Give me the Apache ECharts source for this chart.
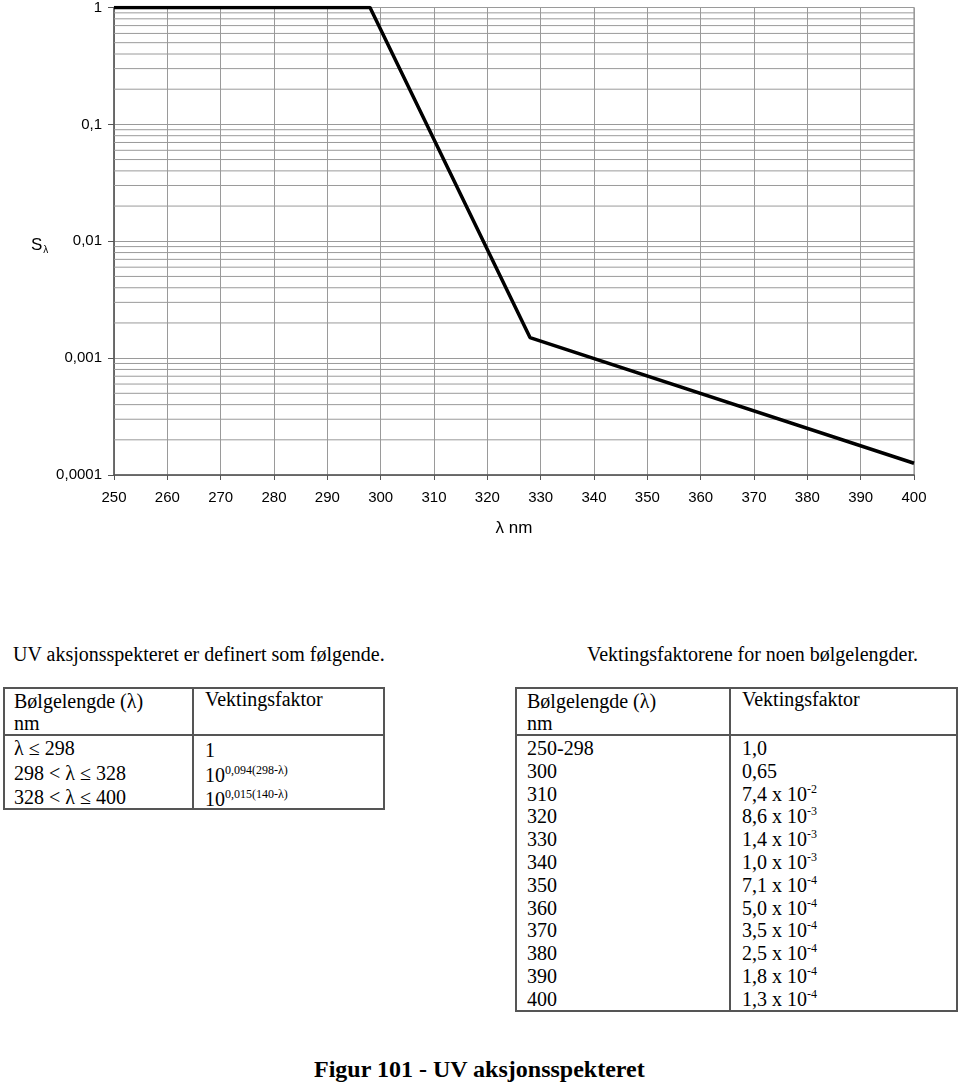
<!DOCTYPE html>
<html>
<head>
<meta charset="utf-8">
<script src="https://cdn.jsdelivr.net/npm/echarts@6/dist/echarts.min.js"></script>
<style>
  html, body { margin:0; padding:0; background:#fff; }
  body { width:960px; height:1086px; position:relative; overflow:hidden; font-family:"Liberation Serif","Times New Roman",serif; color:#000; }
  #chart { position:absolute; left:0; top:0; width:960px; height:560px; }
  .t { position:absolute; white-space:nowrap; font-size:20px; line-height:24px; height:24px; }
  .box { position:absolute; border:2px solid #555; box-sizing:border-box; }
  .hl { position:absolute; height:2px; background:#555; }
  .vl { position:absolute; width:2px; background:#555; }
  sup { font-size:12px; vertical-align:0; position:relative; top:-8px; }
</style>
</head>
<body>
<div id="chart"></div>
<div id="tables"></div>
<script>
// ---- data ----
const curveX = [250, 298, 328, 400];
const curveY = [1, 1, 0.0015, 0.000126];
const xTicks = [250, 260, 270, 280, 290, 300, 310, 320, 330, 340, 350, 360, 370, 380, 390, 400];
const yTickLabels = ['0,0001', '0,001', '0,01', '0,1', '1'];
const yDecades = [0.0001, 0.001, 0.01, 0.1];
const minorMultipliers = [2, 3, 4, 5, 6, 7, 8, 9];

const defHeader = ['Bølgelengde (λ)', 'nm', 'Vektingsfaktor'];
const defRanges = ['λ ≤ 298', '298 &lt; λ ≤ 328', '328 &lt; λ ≤ 400'];
const defFactors = ['1', '10<sup>0,094(298-λ)</sup>', '10<sup>0,015(140-λ)</sup>'];

const tabWavelengths = ['250-298', '300', '310', '320', '330', '340', '350', '360', '370', '380', '390', '400'];
const tabFactors = ['1,0', '0,65', '7,4 x 10<sup>-2</sup>', '8,6 x 10<sup>-3</sup>', '1,4 x 10<sup>-3</sup>', '1,0 x 10<sup>-3</sup>',
  '7,1 x 10<sup>-4</sup>', '5,0 x 10<sup>-4</sup>', '3,5 x 10<sup>-4</sup>', '2,5 x 10<sup>-4</sup>', '1,8 x 10<sup>-4</sup>', '1,3 x 10<sup>-4</sup>'];

// ---- chart ----
const chart = echarts.init(document.getElementById('chart'), null, { renderer: 'canvas' });
const gridColor = '#9a9a9a';
const xMin = xTicks[0], xMax = xTicks[xTicks.length - 1];
const minorSeries = [];
yDecades.forEach(d => minorMultipliers.forEach(m => {
  const v = +(m * d).toPrecision(6);
  minorSeries.push({
    type: 'line', silent: true, z: 1, symbol: 'none', showSymbol: false,
    data: [[xMin, v], [xMax, v]],
    lineStyle: { color: gridColor, width: 1 },
    emphasis: { disabled: true }
  });
}));

chart.setOption({
  animation: false,
  grid: { left: 114, right: 46, top: 7, bottom: 85, show: true, borderColor: '#808080', borderWidth: 1, backgroundColor: 'transparent' },
  xAxis: {
    type: 'value', min: xMin, max: xMax, interval: 10,
    name: 'λ nm', nameLocation: 'middle', nameGap: 45,
    nameTextStyle: { fontFamily: 'Liberation Sans', fontSize: 17, color: '#000' },
    axisLine: { show: true, onZero: false, lineStyle: { color: '#555', width: 1.5 } },
    axisTick: { show: true, length: 5, lineStyle: { color: '#555' } },
    axisLabel: { fontFamily: 'Liberation Sans', fontSize: 15, color: '#000', margin: 15 },
    splitLine: { show: true, lineStyle: { color: gridColor, width: 1 } }
  },
  yAxis: {
    type: 'log', logBase: 10, min: 0.0001, max: 1,
    axisLine: { show: true, lineStyle: { color: '#555', width: 1.5 } },
    axisTick: { show: true, length: 6, lineStyle: { color: '#555' } },
    axisLabel: {
      fontFamily: 'Liberation Sans', fontSize: 15, color: '#000', margin: 12,
      formatter: function (v) { const i = Math.round(Math.log10(v)) + 4; return yTickLabels[i] || ''; }
    },
    splitLine: { show: true, lineStyle: { color: gridColor, width: 1 } },
    minorTick: { show: false },
    minorSplitLine: { show: false }
  },
  graphic: [{
    type: 'text', left: 31, top: 237,
    style: {
      text: '{s|S}{l|λ}',
      rich: {
        s: { fontFamily: 'Liberation Sans', fontSize: 17, fill: '#000' },
        l: { fontFamily: 'Liberation Sans', fontSize: 10, fill: '#000', padding: [10, 0, 0, 1] }
      }
    }
  }],
  series: [{
    type: 'line', data: curveX.map((x, i) => [x, curveY[i]]),
    showSymbol: false, symbol: 'none',
    lineStyle: { color: '#000', width: 3.5 }, z: 10
  }].concat(minorSeries)
});

// ---- text & tables ----
const root = document.getElementById('tables');
function t(html, x, cy, extra) {
  const d = document.createElement('div');
  d.className = 't';
  d.style.left = x + 'px';
  d.style.top = (cy - 12) + 'px';
  if (extra) Object.assign(d.style, extra);
  d.innerHTML = html;
  root.appendChild(d);
}
function el(cls, st) { const d = document.createElement('div'); d.className = cls; Object.assign(d.style, st); root.appendChild(d); }

t('UV aksjonsspekteret er definert som følgende.', 13, 654);
t('Vektingsfaktorene for noen bølgelengder.', 587, 654);

// left table
el('box', { left: '3px', top: '687px', width: '382px', height: '123px' });
el('hl', { left: '3px', top: '734px', width: '382px' });
el('vl', { left: '192px', top: '687px', height: '123px' });
t(defHeader[0], 14, 701); t(defHeader[1], 14, 723); t(defHeader[2], 205, 699);
const defY = [748, 773, 797];
defRanges.forEach((r, i) => { t(r, 14, defY[i]); t(defFactors[i], 205, defY[i] + 2); });

// right table
el('box', { left: '515px', top: '687px', width: '443px', height: '325px' });
el('hl', { left: '515px', top: '734px', width: '443px' });
el('vl', { left: '729px', top: '687px', height: '325px' });
t(defHeader[0], 527, 701); t(defHeader[1], 527, 723); t(defHeader[2], 742, 699);
tabWavelengths.forEach((w, i) => { const cy = 748 + i * 22.8; t(w, 527, cy); t(tabFactors[i], 742, cy); });

t('<b>Figur 101 - UV aksjonsspekteret</b>', 314, 1068, { fontSize: '24px', lineHeight: '26px', height: '26px' });
</script>
</body>
</html>
